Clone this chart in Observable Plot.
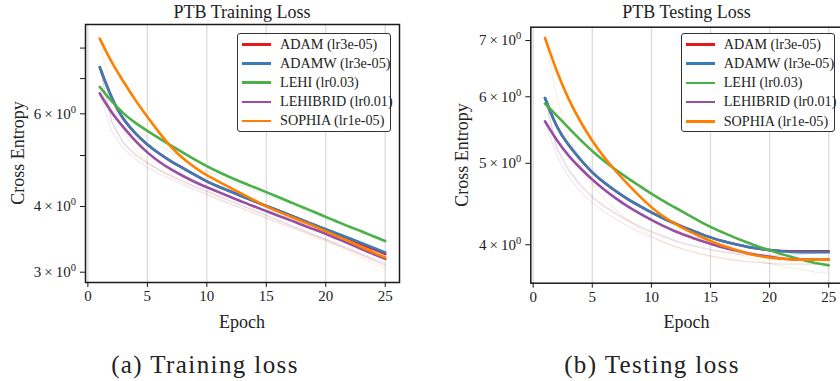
<!DOCTYPE html>
<html><head><meta charset="utf-8">
<script src="https://cdn.jsdelivr.net/npm/d3@7"></script>
<script src="https://cdn.jsdelivr.net/npm/@observablehq/plot@0.6"></script>
<style>
html,body{margin:0;padding:0;width:840px;height:381px;overflow:hidden;background:#fff;font-family:"Liberation Serif","Times New Roman",Times,serif;color:#222}
#root{position:relative;width:840px;height:381px;overflow:hidden}
.abs{position:absolute;white-space:nowrap}
.title{font-size:18px;transform:translate(-50%,-50%)}
.alab{font-size:18px;transform:translate(-50%,-50%)}
.ylab{font-size:18px;transform:translate(-50%,-50%) rotate(-90deg)}
.cap{font-size:25px;letter-spacing:1.4px;transform:translate(-50%,-50%)}
.legend{border:1.5px solid #333;border-radius:3px;background:#fff;box-sizing:border-box}
.row{position:absolute;left:0;height:19px;font-size:14.2px;line-height:19px}
.row .sw{position:absolute;left:4px;top:8.5px;width:29px;height:2.6px}
.row .tx{position:absolute;left:42px;top:0}
</style>
</head><body><div id="root"></div>
<script>
const epochs = [1,2,3,4,5,6,7,8,9,10,11,12,13,14,15,16,17,18,19,20,21,22,23,24,25];
const seriesNames = ["ADAM (lr3e-05)","ADAMW (lr3e-05)","LEHI (lr0.03)","LEHIBRID (lr0.01)","SOPHIA (lr1e-05)"];
const seriesColors = ["#e41a1c","#377eb8","#4daf4a","#984ea3","#ff7f00"];

// Training loss (smoothed, bold)
const trainAdam     = [7.36,6.40,5.83,5.50,5.24,5.04,4.87,4.73,4.59,4.46,4.36,4.27,4.18,4.09,4.01,3.93,3.85,3.77,3.69,3.62,3.54,3.47,3.39,3.32,3.25];
const trainAdamw    = [7.36,6.40,5.83,5.50,5.24,5.04,4.87,4.73,4.59,4.46,4.36,4.27,4.18,4.09,4.01,3.93,3.85,3.77,3.69,3.62,3.55,3.48,3.41,3.34,3.27];
const trainLehi     = [6.75,6.33,6.00,5.76,5.57,5.39,5.22,5.06,4.91,4.77,4.65,4.54,4.44,4.35,4.26,4.17,4.08,3.99,3.91,3.82,3.74,3.66,3.59,3.51,3.44];
const trainLehibrid = [6.56,6.02,5.65,5.32,5.06,4.86,4.70,4.57,4.45,4.35,4.26,4.17,4.08,4.00,3.92,3.84,3.77,3.69,3.62,3.55,3.47,3.40,3.32,3.25,3.18];
const trainSophia   = [8.34,7.50,6.90,6.36,5.92,5.52,5.18,4.93,4.74,4.58,4.46,4.34,4.22,4.11,4.00,3.91,3.83,3.75,3.67,3.59,3.51,3.43,3.35,3.27,3.20];
// Training loss (raw, faint)
const rawTrainAdam     = [7.36,5.80,5.28,5.02,4.84,4.70,4.58,4.47,4.37,4.28,4.19,4.10,4.01,3.93,3.85,3.76,3.68,3.61,3.53,3.46,3.38,3.31,3.24,3.17,3.10];
const rawTrainAdamw    = [7.36,5.78,5.27,5.01,4.83,4.69,4.57,4.46,4.36,4.27,4.18,4.09,4.01,3.93,3.85,3.77,3.69,3.62,3.54,3.47,3.40,3.33,3.26,3.19,3.12];
const rawTrainLehi     = [6.75,6.10,5.80,5.58,5.40,5.23,5.07,4.92,4.78,4.66,4.56,4.47,4.38,4.29,4.21,4.12,4.04,3.95,3.87,3.79,3.71,3.63,3.56,3.48,3.41];
const rawTrainLehibrid = [6.56,5.55,5.15,4.92,4.75,4.62,4.50,4.40,4.30,4.21,4.12,4.04,3.96,3.88,3.80,3.73,3.66,3.59,3.52,3.45,3.38,3.31,3.24,3.16,3.08];
const rawTrainSophia   = [8.34,6.40,5.55,5.12,4.86,4.68,4.54,4.43,4.33,4.23,4.14,4.05,3.97,3.89,3.81,3.73,3.65,3.58,3.50,3.43,3.36,3.28,3.20,3.12,3.04];

// Testing loss (smoothed, bold)
const testAdam     = [5.98,5.50,5.25,5.05,4.87,4.74,4.63,4.53,4.45,4.37,4.30,4.24,4.18,4.13,4.08,4.04,4.01,3.98,3.96,3.94,3.93,3.93,3.93,3.93,3.93];
const testAdamw    = [5.98,5.50,5.25,5.05,4.87,4.74,4.63,4.53,4.45,4.37,4.30,4.24,4.18,4.13,4.08,4.04,4.01,3.98,3.96,3.94,3.93,3.92,3.92,3.92,3.92];
const testLehi     = [5.89,5.70,5.51,5.33,5.17,5.03,4.91,4.80,4.70,4.60,4.51,4.43,4.35,4.27,4.20,4.14,4.08,4.03,3.98,3.94,3.90,3.86,3.83,3.80,3.78];
const testLehibrid = [5.61,5.32,5.10,4.93,4.78,4.65,4.54,4.44,4.36,4.28,4.21,4.15,4.10,4.05,4.01,3.97,3.94,3.91,3.89,3.87,3.85,3.84,3.84,3.84,3.84];
const testSophia   = [7.05,6.42,5.95,5.60,5.31,5.08,4.89,4.72,4.57,4.43,4.32,4.24,4.16,4.10,4.04,3.99,3.95,3.91,3.88,3.86,3.85,3.84,3.84,3.84,3.84];
// Testing loss (raw, faint)
const rawTestAdam     = [5.98,5.20,4.90,4.70,4.55,4.44,4.35,4.27,4.20,4.14,4.09,4.04,4.00,3.97,3.94,3.92,3.90,3.89,3.88,3.88,3.88,3.89,3.90,3.91,3.92];
const rawTestAdamw    = [5.98,5.22,4.92,4.72,4.57,4.45,4.36,4.28,4.21,4.15,4.10,4.05,4.01,3.98,3.95,3.93,3.91,3.90,3.89,3.89,3.89,3.90,3.90,3.91,3.91];
const rawTestLehi     = [5.89,5.55,5.30,5.10,4.93,4.79,4.66,4.55,4.45,4.36,4.28,4.20,4.13,4.07,4.01,3.96,3.91,3.87,3.83,3.80,3.77,3.75,3.73,3.71,3.70];
const rawTestLehibrid = [5.61,5.10,4.82,4.63,4.49,4.38,4.29,4.21,4.14,4.08,4.03,3.98,3.94,3.91,3.88,3.86,3.84,3.82,3.81,3.80,3.79,3.79,3.79,3.79,3.79];
const rawTestSophia   = [7.05,6.00,5.35,4.98,4.72,4.54,4.40,4.28,4.18,4.10,4.03,3.98,3.94,3.90,3.87,3.85,3.83,3.82,3.81,3.80,3.80,3.80,3.80,3.80,3.80];

const xTicks = [0,5,10,15,20,25];
const trainTicks = [3,4,5,6,7,8];
const trainTickLabels = ["3\u2009×\u200910⁰","4\u2009×\u200910⁰","","6\u2009×\u200910⁰","",""];
const testTicks = [4,5,6,7];
const testTickLabels = ["4\u2009×\u200910⁰","5\u2009×\u200910⁰","6\u2009×\u200910⁰","7\u2009×\u200910⁰"];

function table(arrs) {
  const rows = [];
  arrs.forEach((arr, i) => arr.forEach((v, j) => rows.push({epoch: epochs[j], value: v, series: seriesNames[i]})));
  return rows;
}

function makeChart(o) {
  const bold = table(o.bold), raw = table(o.raw);
  const svg = Plot.plot({
    width: o.width, height: o.height,
    marginLeft: o.ml, marginRight: o.mr, marginTop: o.mt, marginBottom: o.mb,
    style: {fontFamily: "'Liberation Serif', 'Times New Roman', serif", color: "#222", background: "transparent", overflow: "visible"},
    x: {domain: [-0.2, 26.2]},
    y: {type: "log", domain: o.ydomain},
    color: {domain: seriesNames, range: seriesColors},
    marks: [
      Plot.gridX(xTicks, {stroke: "#dcdcdc", strokeOpacity: 1, strokeWidth: 1.3}),
      Plot.line(raw, {x: "epoch", y: "value", z: "series", stroke: "series", strokeWidth: 1.1, strokeOpacity: 0.14}),
      Plot.line(bold, {x: "epoch", y: "value", z: "series", stroke: "series", strokeWidth: 2.6, curve: "basis"}),
      Plot.frame({stroke: "#1a1a1a", strokeWidth: 1.5}),
      Plot.axisX({ticks: xTicks, tickSize: 5, tickPadding: 3, fontSize: 15, label: null, stroke: "#1a1a1a"}),
      Plot.axisY({ticks: o.yticks, tickFormat: (d) => o.ylabels[o.yticks.indexOf(d)] ?? "", tickSize: 5, tickPadding: 4.5, fontSize: 15, label: null, stroke: "#1a1a1a"})
    ]
  });
  // render the exponent as a raised superscript
  svg.querySelectorAll("text").forEach(t => {
    if (t.textContent.includes("⁰")) {
      const base = t.textContent.replace("⁰", "");
      t.textContent = "";
      const ns = "http://www.w3.org/2000/svg";
      const a = document.createElementNS(ns, "tspan"); a.textContent = base;
      const b = document.createElementNS(ns, "tspan"); b.textContent = "0";
      b.setAttribute("font-size", "10.5"); b.setAttribute("dy", "-6");
      t.appendChild(a); t.appendChild(b);
    }
  });
  return svg;
}

const root = document.getElementById("root");
function place(el, left, top) { el.style.position = "absolute"; el.style.left = left + "px"; el.style.top = top + "px"; root.appendChild(el); }

const c1 = makeChart({width: 420, height: 340, ml: 85, mr: 21, mt: 24, mb: 58, ydomain: [2.868, 8.87],
  yticks: trainTicks, ylabels: trainTickLabels,
  bold: [trainAdam, trainAdamw, trainLehi, trainLehibrid, trainSophia],
  raw: [rawTrainAdam, rawTrainAdamw, rawTrainLehi, rawTrainLehibrid, rawTrainSophia]});
place(c1, 0, 0);
const c2 = makeChart({width: 430, height: 340, ml: 110.3, mr: 7.6, mt: 26.7, mb: 57.3, ydomain: [3.60, 7.26],
  yticks: testTicks, ylabels: testTickLabels,
  bold: [testAdam, testAdamw, testLehi, testLehibrid, testSophia],
  raw: [rawTestAdam, rawTestAdamw, rawTestLehi, rawTestLehibrid, rawTestSophia]});
place(c2, 420, 0);

function text(cls, str, x, y) {
  const d = document.createElement("div");
  d.className = "abs " + cls; d.textContent = str;
  d.style.left = x + "px"; d.style.top = y + "px";
  root.appendChild(d);
}
text("title", "PTB Training Loss", 242, 12);
text("title", "PTB Testing Loss", 686.5, 12);
text("alab", "Epoch", 242, 322);
text("alab", "Epoch", 686.5, 322);
text("ylab", "Cross Entropy", 18, 153);
text("ylab", "Cross Entropy", 461.7, 155);
text("cap", "(a) Training loss", 205, 365);
text("cap", "(b) Testing loss", 652, 365);

function legend(x, y) {
  const box = document.createElement("div");
  box.className = "abs legend";
  box.style.left = x + "px"; box.style.top = y + "px";
  box.style.width = "154px"; box.style.height = "98.5px";
  seriesNames.forEach((n, i) => {
    const r = document.createElement("div");
    r.className = "row"; r.style.top = (0.5 + i * 19.2) + "px";
    const sw = document.createElement("span"); sw.className = "sw"; sw.style.background = seriesColors[i];
    const tx = document.createElement("span"); tx.className = "tx"; tx.textContent = n;
    r.appendChild(sw); r.appendChild(tx); box.appendChild(r);
  });
  root.appendChild(box);
}
legend(237, 33);
legend(680.7, 33.3);
</script>
</body></html>
